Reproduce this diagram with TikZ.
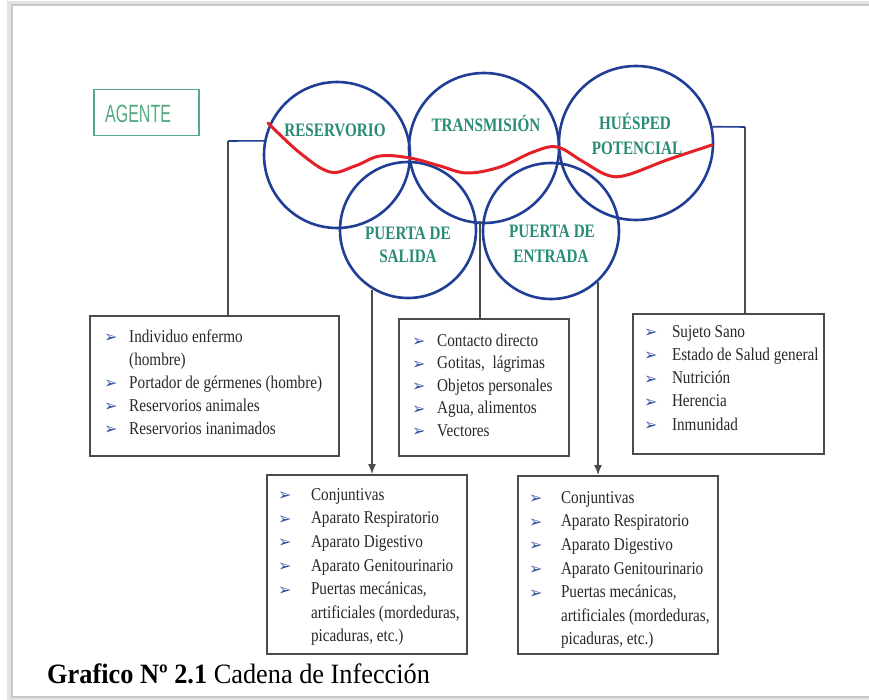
\documentclass[tikz,border=0pt]{standalone}
\usepackage{fontspec}
\setmainfont{Liberation Serif}
\newfontfamily\bodyf[FakeStretch=0.845]{Liberation Serif}
\newfontfamily\lblf[FakeStretch=0.8]{Liberation Serif}
\newfontfamily\agf[FakeStretch=0.64]{Liberation Sans}
\newfontfamily\capf[FakeStretch=0.94]{Liberation Serif}
\newfontfamily\symf{DejaVu Sans}
\usetikzlibrary{arrows.meta}
\definecolor{cblue}{RGB}{32,62,150}
\definecolor{cred}{RGB}{228,32,40}
\definecolor{cteal}{RGB}{40,140,118}
\definecolor{cagent}{RGB}{85,170,130}
\definecolor{cbox}{RGB}{75,75,75}
\definecolor{ctext}{RGB}{40,40,40}
\definecolor{cbul}{RGB}{55,85,165}
\definecolor{cframe}{RGB}{200,200,200}
\newcommand\bl[1][25pt]{\makebox[#1][l]{\raisebox{-0.5pt}{\fontsize{16}{16}\symf\color{cbul}➢}}}
\newcommand\ind[1][25pt]{\hspace*{#1}}
\newcommand\st{\rule{0pt}{13pt}}
\tikzset{
  circ/.style={circle, draw=cblue, line width=2.6pt, inner sep=0pt},
  lbl/.style={anchor=base, inner sep=0pt, text=cteal, font=\lblf\fontsize{19}{19}\selectfont\bfseries},
  boxst/.style={rectangle, draw=cbox, line width=1.6pt, anchor=north west, inner sep=0pt},
  btext/.style={anchor=north west, inner sep=0pt, align=left, text=ctext, font=\bodyf\fontsize{18}{23}\selectfont},
  conn/.style={draw=cbox, line width=1.3pt},
  bconn/.style={draw=cblue, line width=1.6pt},
  arr/.style={conn, -{Latex[length=10pt,width=8pt]}}
}
\begin{document}
\begin{tikzpicture}[x=1pt, y=-1pt]
\useasboundingbox (0,0) rectangle (869,700);
\fill[white] (0,0) rectangle (869,700);
% frame
\draw[cframe!50, line width=4pt] (9,3) rectangle (900,699);
\draw[cframe, line width=1.6pt] (12,5) rectangle (900,697);

% AGENTE
\node[draw=cagent, line width=1.5pt, minimum width=105pt, minimum height=46pt, anchor=north west, inner sep=0pt] (agente) at (93,89) {};
\node[anchor=base west, inner sep=0pt, text=cagent, font=\agf\fontsize{25}{25}\selectfont] (agtxt) at (105,123) {AGENTE};

% circles
\node[circ, minimum size=146pt] (res) at (337,155) {};
\node[circ, minimum size=150pt] (tra) at (484,148) {};
\node[circ, minimum size=154pt] (hue) at (636,143) {};
\node[circ, minimum size=136pt] (sal) at (408,230) {};
\node[circ, minimum size=136pt] (ent) at (551,231) {};

% red wave
\draw[cred, line width=3pt, line cap=round] plot[smooth, tension=0.6] coordinates {(268,123) (300,153) (330,172) (355,166) (380,156) (410,158) (440,166) (467,173) (500,167) (533,152) (557,147) (582,161) (607,175) (627,175) (667,160) (712,145)};

% labels
\node[lbl] (l1) at (335,137) {RESERVORIO};
\node[lbl] (l2) at (486,132) {TRANSMISIÓN};
\node[lbl] (l3) at (635,130) {HUÉSPED};
\node[lbl] (l4) at (637,155) {POTENCIAL};
\node[lbl] (l5) at (408,240) {PUERTA DE};
\node[lbl] (l6) at (408,263) {SALIDA};
\node[lbl] (l7) at (552,238) {PUERTA DE};
\node[lbl] (l8) at (551,263) {ENTRADA};

% boxes
\node[boxst, minimum width=249pt, minimum height=140pt] (lbox) at (89,315) {};
\node[boxst, minimum width=170pt, minimum height=137pt] (mbox) at (398,318) {};
\node[boxst, minimum width=191pt, minimum height=140pt] (rbox) at (632,313) {};
\node[boxst, minimum width=200pt, minimum height=179pt] (blbox) at (266,474) {};
\node[boxst, minimum width=200pt, minimum height=178pt] (brbox) at (517,475) {};

% box texts
\node[btext] (lt) at (104,329) {\st\bl Individuo enfermo\\ \ind(hombre)\\ \bl Portador de gérmenes (hombre)\\ \bl Reservorios animales\\ \bl Reservorios inanimados};
\node[btext, font=\bodyf\fontsize{18}{22.5}\selectfont] (mt) at (412,333) {\st\bl Contacto directo\\ \bl Gotitas,\ \ lágrimas\\ \bl Objetos personales\\ \bl Agua, alimentos\\ \bl Vectores};
\node[btext, font=\bodyf\fontsize{18}{23.2}\selectfont] (rt) at (644,324) {\st\bl[24pt] Sujeto Sano\\ \bl[24pt] Estado de Salud general\\ \bl[24pt] Nutrición\\ \bl[24pt] Herencia\\ \bl[24pt] Inmunidad};
\node[btext, font=\bodyf\fontsize{18}{23.6}\selectfont] (blt) at (278,487) {\st\bl[29pt] Conjuntivas\\ \bl[29pt] Aparato Respiratorio\\ \bl[29pt] Aparato Digestivo\\ \bl[29pt] Aparato Genitourinario\\ \bl[29pt] Puertas mecánicas,\\ \ind[29pt] artificiales (mordeduras,\\ \ind[29pt] picaduras, etc.)};
\node[btext, font=\bodyf\fontsize{18}{23.6}\selectfont] (brt) at (529,490) {\st\bl[28pt] Conjuntivas\\ \bl[28pt] Aparato Respiratorio\\ \bl[28pt] Aparato Digestivo\\ \bl[28pt] Aparato Genitourinario\\ \bl[28pt] Puertas mecánicas,\\ \ind[28pt] artificiales (mordeduras,\\ \ind[28pt] picaduras, etc.)};

% connectors
\coordinate (lc) at (228,141);
\draw[bconn] (res.169) -- (lc);
\draw[conn] (lc) -- (lc |- lbox.north);
\coordinate (rc) at (745,127);
\draw[bconn] (hue.12) -- (rc);
\draw[conn] (rc) -- (rc |- rbox.north);
\coordinate (mc) at (480,221);
\draw[conn] (mc) -- (mc |- mbox.north);
\coordinate (a1) at (372,290);
\draw[arr] (a1) -- (a1 |- blbox.north);
\coordinate (a2) at (598,282);
\draw[arr] (a2) -- (a2 |- brbox.north);

% caption
\node[anchor=base west, inner sep=0pt, font=\capf\fontsize{28}{28}\selectfont] (cap) at (47,683) {\textbf{Grafico Nº 2.1} Cadena de Infección};
\end{tikzpicture}
\end{document}
